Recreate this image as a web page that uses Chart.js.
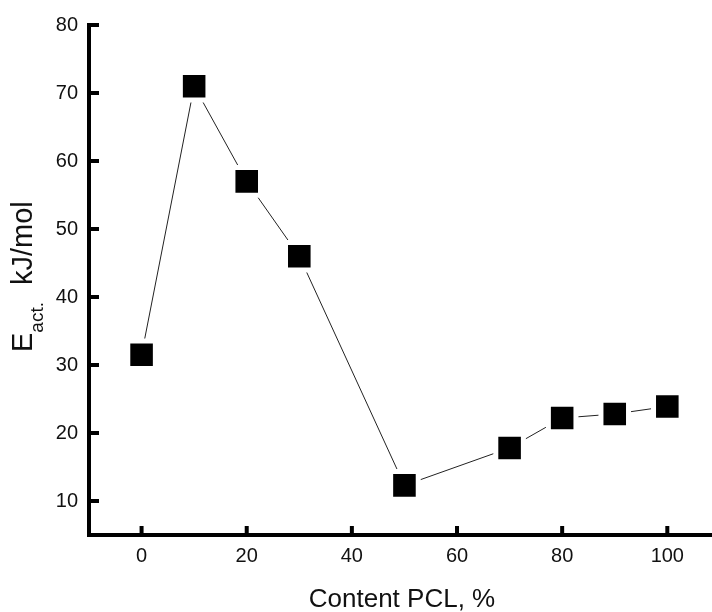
<!DOCTYPE html>
<html>
<head>
<meta charset="utf-8">
<script src="https://cdn.jsdelivr.net/npm/chart.js@4"></script>
<style>
html,body{margin:0;padding:0;background:#fff;}
#wrap{position:relative;width:712px;height:612px;}
</style>
</head>
<body>
<div id="wrap"><canvas id="c" width="712" height="612"></canvas></div>
<script>
const contentPCL = [0, 10, 20, 30, 50, 70, 80, 90, 100];
const eAct = [31.5, 71, 57, 46, 12.3, 17.8, 22.2, 22.8, 23.9];
const xTicks = [0, 20, 40, 60, 80, 100];
const yTicks = [10, 20, 30, 40, 50, 60, 70, 80];
const xTitle = 'Content PCL, %';
const yTitleMain = 'E';
const yTitleSub = 'act.';
const yTitleUnit = 'kJ/mol';

const FONT = '"Liberation Sans", Arial, sans-serif';

const innerTicks = {
  id: 'innerTicks',
  afterDatasetsDraw(chart) {
    const {ctx, chartArea, scales} = chart;
    ctx.save();
    ctx.strokeStyle = '#000';
    ctx.lineWidth = 4;
    ctx.lineCap = 'butt';
    ctx.beginPath();
    xTicks.forEach(v => {
      const px = scales.x.getPixelForValue(v);
      ctx.moveTo(px, chartArea.bottom);
      ctx.lineTo(px, chartArea.bottom - 9);
    });
    yTicks.forEach(v => {
      const py = scales.y.getPixelForValue(v);
      ctx.moveTo(chartArea.left, py);
      ctx.lineTo(chartArea.left + 10, py);
    });
    ctx.stroke();
    ctx.restore();
  }
};

const titles = {
  id: 'titles',
  afterDraw(chart) {
    const {ctx} = chart;
    ctx.save();
    ctx.fillStyle = '#111';
    ctx.textBaseline = 'alphabetic';
    ctx.textAlign = 'center';
    ctx.font = '26px ' + FONT;
    ctx.fillText(xTitle, 402, 607);
    ctx.restore();

    ctx.save();
    ctx.translate(32, 352);
    ctx.rotate(-Math.PI / 2);
    ctx.fillStyle = '#111';
    ctx.textAlign = 'left';
    ctx.textBaseline = 'alphabetic';
    ctx.font = '29px ' + FONT;
    ctx.fillText(yTitleMain, 0, 0);
    let x = ctx.measureText(yTitleMain).width;
    ctx.font = '19px ' + FONT;
    ctx.fillText(yTitleSub, x, 11);
    x += ctx.measureText(yTitleSub).width + 17;
    ctx.font = '29px ' + FONT;
    ctx.fillText(yTitleUnit, x, 0);
    ctx.restore();
  }
};

new Chart(document.getElementById('c'), {
  type: 'line',
  data: {
    datasets: [{
      data: contentPCL.map((x, i) => ({x: x, y: eAct[i]})),
      borderColor: '#222',
      borderWidth: 1,
      backgroundColor: '#000',
      pointStyle: 'rect',
      pointRadius: 19.5,
      pointHoverRadius: 19.5,
      pointBackgroundColor: '#000',
      pointBorderColor: '#fff',
      pointBorderWidth: 5,
      tension: 0,
      clip: false
    }]
  },
  options: {
    responsive: false,
    animation: false,
    events: [],
    layout: {autoPadding: false, padding: {top: 25, left: 0, right: 0, bottom: 0}},
    plugins: {legend: {display: false}, tooltip: {enabled: false}},
    scales: {
      x: {
        type: 'linear',
        min: -10,
        max: 108.5,
        afterBuildTicks: s => { s.ticks = xTicks.map(v => ({value: v})); },
        afterFit: s => { s.height = 77; s.paddingRight = 0; s.paddingLeft = 0; },
        grid: {display: true, color: 'rgba(0,0,0,0)', drawTicks: false},
        border: {display: true, color: '#000', width: 4},
        ticks: {color: '#111', font: {family: FONT, size: 20}, padding: 9, maxRotation: 0, autoSkip: false}
      },
      y: {
        type: 'linear',
        min: 5,
        max: 80,
        afterBuildTicks: s => { s.ticks = yTicks.map(v => ({value: v})); },
        afterFit: s => { s.width = 89; s.paddingTop = 0; s.paddingBottom = 0; },
        grid: {display: true, color: 'rgba(0,0,0,0)', drawTicks: false},
        border: {display: true, color: '#000', width: 4},
        ticks: {color: '#111', font: {family: FONT, size: 20}, padding: 11, autoSkip: false}
      }
    }
  },
  plugins: [innerTicks, titles]
});
</script>
</body>
</html>
